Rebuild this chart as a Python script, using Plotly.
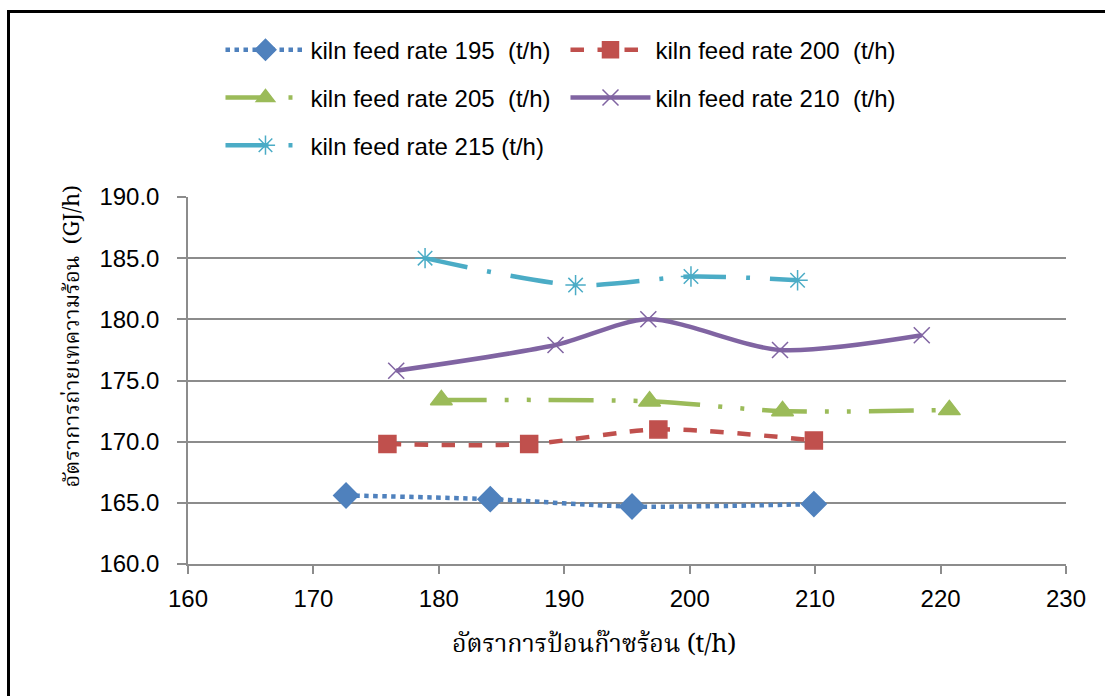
import plotly.graph_objects as go

# Hot-gas feed rate (t/h) vs. heat transfer rate (GJ/h) for each kiln feed rate
x_195 = [172.6, 184.1, 195.4, 209.9]
y_195 = [165.6, 165.3, 164.7, 164.9]

x_200 = [175.9, 187.2, 197.5, 209.9]
y_200 = [169.8, 169.8, 171.0, 170.1]

x_205 = [180.2, 196.8, 207.4, 220.7]
y_205 = [173.4, 173.3, 172.5, 172.6]

x_210 = [176.6, 189.3, 196.7, 207.2, 218.5]
y_210 = [175.8, 177.9, 180.0, 177.5, 178.7]

x_215 = [178.9, 190.9, 200.1, 208.6]
y_215 = [185.0, 182.8, 183.5, 183.2]

names = [
    "kiln feed rate 195  (t/h)",
    "kiln feed rate 200  (t/h)",
    "kiln feed rate 205  (t/h)",
    "kiln feed rate 210  (t/h)",
    "kiln feed rate 215 (t/h)",
]

x_ticks = [160, 170, 180, 190, 200, 210, 220, 230]
y_ticks = [160.0, 165.0, 170.0, 175.0, 180.0, 185.0, 190.0]

x_title = "อัตราการป้อนก๊าซร้อน (t/h)"
y_title = "อัตราการถ่ายเทความร้อน  (GJ/h)"

FONT = "Liberation Sans, Arial, sans-serif"
THAI_FONT = "Noto Serif Thai, Noto Sans Thai, Loma, Garuda, Tlwg Typo, DejaVu Serif, serif"
GRID = "#8c8c8c"

styles = [
    dict(color="#4F81BD", dash="dot", symbol="diamond", size=19, legend="legend"),
    dict(color="#C0504D", dash="dash", symbol="square", size=17, legend="legend"),
    dict(color="#9BBB59", dash="45px,18px,4px,18px,4px,18px", symbol="triangle-up", size=19, legend="legend2"),
    dict(color="#8064A2", dash="solid", symbol="x-thin", size=16, legend="legend2"),
    dict(color="#4BACC6", dash="43px,20px,4px,20px", symbol="asterisk", size=17, legend="legend3"),
]

series = [(x_195, y_195), (x_200, y_200), (x_205, y_205), (x_210, y_210), (x_215, y_215)]

fig = go.Figure()
for (xs, ys), name, st in zip(series, names, styles):
    fig.add_trace(go.Scatter(
        x=xs, y=ys, name=name, mode="lines+markers",
        line=dict(color=st["color"], width=4.5, dash=st["dash"], shape="spline", smoothing=0.8),
        marker=dict(symbol=st["symbol"], size=st["size"], color=st["color"],
                    line=dict(color=st["color"], width=1.5)),
        legend=st["legend"],
    ))

legend_common = dict(
    orientation="h", xanchor="left", yanchor="middle",
    font=dict(family=FONT, size=24, color="#000000"),
    itemwidth=80, entrywidth=250, entrywidthmode="pixels",
    bgcolor="rgba(0,0,0,0)", traceorder="normal",
)

fig.update_layout(
    width=1105, height=696,
    margin=dict(l=188, r=39, t=197, b=132),
    paper_bgcolor="white", plot_bgcolor="white",
    showlegend=True,
    legend=dict(x=0.037, y=1.4, **legend_common),
    legend2=dict(x=0.037, y=1.27, **legend_common),
    legend3=dict(x=0.037, y=1.14, **legend_common),
    xaxis=dict(
        range=[160, 230], tickvals=x_ticks, ticktext=[str(v) for v in x_ticks],
        showgrid=False, zeroline=False,
        showline=True, linecolor=GRID, linewidth=1.5,
        ticks="outside", ticklen=8, tickcolor=GRID, tickwidth=1.5,
        ticklabelstandoff=4,
        tickfont=dict(family=FONT, size=24, color="#000000"),
    ),
    yaxis=dict(
        range=[160, 190], tickvals=y_ticks, ticktext=[f"{v:.1f}" for v in y_ticks],
        showgrid=True, gridcolor=GRID, gridwidth=1.5, zeroline=False,
        showline=True, linecolor=GRID, linewidth=1.5,
        ticks="outside", ticklen=9, tickcolor=GRID, tickwidth=1.5,
        ticklabelstandoff=13,
        tickfont=dict(family=FONT, size=24, color="#000000"),
    ),
    annotations=[
        dict(text=x_title, xref="paper", yref="paper", x=0.462, y=-0.22,
             xanchor="center", yanchor="middle", showarrow=False,
             font=dict(family=THAI_FONT, size=25, color="#000000")),
        dict(text=y_title, xref="paper", yref="paper", x=-0.131, y=0.62,
             xanchor="center", yanchor="middle", showarrow=False, textangle=-90,
             font=dict(family=THAI_FONT, size=22, color="#000000")),
    ],
    shapes=[
        dict(type="rect", xref="paper", yref="paper",
             x0=(8.5 - 188) / 878, x1=1.1, y0=-0.5, y1=(564.3 - 11) / 367.6,
             line=dict(color="black", width=3), fillcolor="rgba(0,0,0,0)", layer="below"),
    ],
)

fig.write_html("out.html")
